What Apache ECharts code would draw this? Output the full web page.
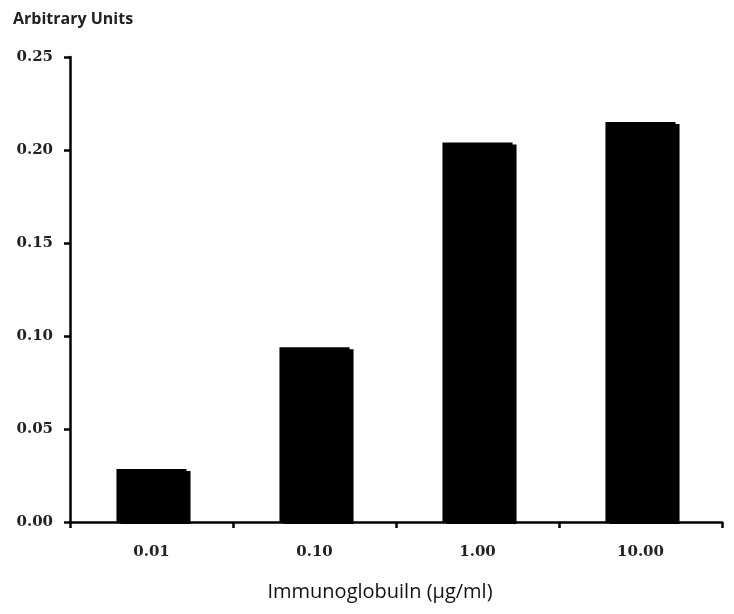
<!DOCTYPE html>
<html><head><meta charset="utf-8">
<script src="https://cdn.jsdelivr.net/npm/echarts@6/dist/echarts.min.js"></script>
<style>html,body{margin:0;padding:0;background:#fff}#c{width:734px;height:614px}</style>
</head><body><div id="c"></div>
<script>
const categories = ['0.01', '0.10', '1.00', '10.00'];
const values = [0.0285, 0.094, 0.204, 0.215];
const yTitle = 'Arbitrary Units';
const xTitle = 'Immunoglobuiln (µg/ml)';

const chart = echarts.init(document.getElementById('c'));
chart.setOption({
  animation: false,
  backgroundColor: '#fff',
  title: {
    text: yTitle, left: 8, top: 6,
    textStyle: {fontFamily: '"Open Sans", sans-serif', fontWeight: 'bold', fontSize: 16, color: '#222'}
  },
  grid: {left: 70, right: 12, top: 57, bottom: 92},
  xAxis: {
    type: 'category', data: categories, z: 10,
    name: xTitle, nameLocation: 'middle', nameGap: 60,
    nameTextStyle: {fontFamily: '"Open Sans", sans-serif', fontSize: 20, color: '#111', padding: [0, 32, 0, 0]},
    axisLine: {lineStyle: {color: '#000', width: 2.5}},
    axisTick: {show: true, alignWithLabel: false, length: 6, lineStyle: {color: '#000', width: 2.5}},
    axisLabel: {margin: 23, fontFamily: '"DejaVu Serif", serif', fontWeight: 'bold', fontSize: 15, color: '#222'}
  },
  yAxis: {
    type: 'value', min: 0, max: 0.25, interval: 0.05, z: 10,
    axisLine: {show: true, lineStyle: {color: '#000', width: 2.5}},
    axisTick: {show: true, length: 6, lineStyle: {color: '#000', width: 2.5}},
    splitLine: {show: false},
    axisLabel: {margin: 17, fontFamily: '"DejaVu Serif", serif', fontWeight: 'bold', fontSize: 15, color: '#222',
      formatter: v => v.toFixed(2)}
  },
  series: [{
    type: 'bar', data: values, barWidth: '43%',
    itemStyle: {color: '#000', shadowColor: '#000', shadowBlur: 0, shadowOffsetX: 4, shadowOffsetY: 2}
  }]
});
</script></body></html>
